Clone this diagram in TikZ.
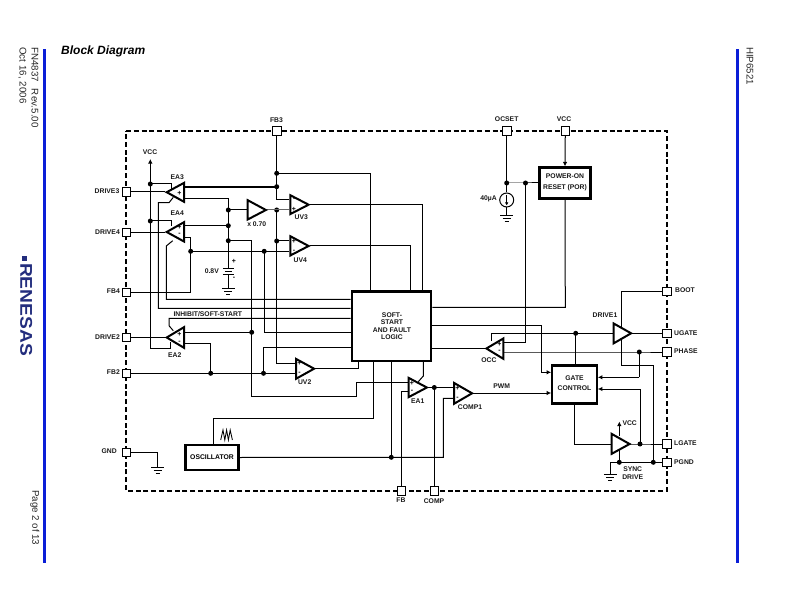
\documentclass[tikz,border=0pt]{standalone}
\usepackage{fontspec}
\usepackage{graphicx}
\setmainfont{Liberation Sans}
\usetikzlibrary{arrows.meta}
\definecolor{barblue}{RGB}{10,30,215}
\definecolor{logoblue}{RGB}{35,45,125}
\tikzset{
  wire/.style={line width=1pt},
  tip/.style={wire,-{Latex[length=4.6pt,width=4.6pt]}},
  dot/.style={circle,fill=black,inner sep=0pt,minimum size=5pt},
  pin/.style={draw,fill=white,line width=0.8pt,minimum size=8.6pt,inner sep=0pt},
  block/.style={draw,fill=white,line width=2.2pt,inner sep=0pt,font=\fontsize{6.8}{7.5}\selectfont\bfseries,align=center},
  lab/.style={inner sep=0pt,font=\fontsize{6.8}{7.5}\selectfont\bfseries,text=black!90},
  side/.style={inner sep=0pt,font=\fontsize{9.7}{10}\selectfont,text=black!85,rotate=-90},
  sign/.style={inner sep=0pt,font=\fontsize{7}{7}\selectfont\bfseries},
  bar/.style={fill=barblue,draw=none},
  frame/.style={line width=1.6pt,dash pattern=on 5pt off 2.8pt},
}
% amplifier triangle: name, base x, top y, bottom y, tip x, tip y (outer extents)
\newcommand\ampl[6]{%
  \pgfmathsetmacro\amps{#5>#2?1:-1}%
  \pgfmathsetmacro\ampbx{#2+\amps}%
  \pgfmathsetmacro\amptx{#5-1.4*\amps}%
  \pgfmathsetmacro\ampty{#3+1.2}%
  \pgfmathsetmacro\ampby{#4-1.2}%
  \draw[fill=white,line width=2pt] (\ampbx,\ampty) coordinate (#1-top) -- (\amptx,#6) coordinate (#1-tip) -- (\ampbx,\ampby) coordinate (#1-bot) -- cycle;
}
% ground symbol hanging from a named coordinate
\newcommand\gnd[1]{%
  \draw[wire] ([xshift=-6.5pt]#1) -- ([xshift=6.5pt]#1);
  \draw[wire] ([xshift=-4pt,yshift=-3.2pt]#1) -- ([xshift=4pt,yshift=-3.2pt]#1);
  \draw[wire] ([xshift=-2pt,yshift=-6.2pt]#1) -- ([xshift=2pt,yshift=-6.2pt]#1);
}
\begin{document}
\begin{tikzpicture}[x=1pt,y=-1pt]
\useasboundingbox (0,0) rectangle (792,612);
% page furniture
\fill[bar] (43,49) rectangle (46,563);
\fill[bar] (736,49) rectangle (739,563);
\node[anchor=west,inner sep=0pt,font=\fontsize{12}{14}\selectfont\bfseries\itshape] (title) at (61,51) {Block Diagram};
\node[side,anchor=west] (fn) at (35,47) {\addfontfeature{LetterSpace=1}FN4837\hspace{0.7em}Rev.5.00};
\node[side,anchor=west] (date) at (22.5,47) {\addfontfeature{LetterSpace=1}Oct 16, 2006};
\node[side,anchor=west] (part) at (750,47) {HIP6521};
\node[side,anchor=west] (page) at (35,490) {Page 2 of 13};
\node[rotate=-90,inner sep=0pt,text=logoblue,font=\fontsize{17}{18}\selectfont\bfseries,anchor=center] (logo) at (26.3,309.5) {\scalebox{1.13}[1]{RENESAS}};
\fill[logoblue] (22.3,256.5) rectangle (26.7,261);
% frame
\draw[frame] (126,131) -- (667,131) -- (667,491) -- (126,491) -- cycle;
% pins
\node[pin] (pFB3) at (276.7,131) {};
\node[pin] (pOCSET) at (506.7,131) {};
\node[pin] (pVCC) at (565.3,131) {};
\node[pin] (pD3) at (126.5,192) {};
\node[pin] (pD4) at (126.5,232.3) {};
\node[pin] (pFB4) at (126.5,292.3) {};
\node[pin] (pD2) at (126.5,337.5) {};
\node[pin] (pFB2) at (126.5,373.3) {};
\node[pin] (pGND) at (126.5,452.3) {};
\node[pin] (pFB) at (401.2,491) {};
\node[pin] (pCOMP) at (434.3,491) {};
\node[pin] (pBOOT) at (667,291.5) {};
\node[pin] (pUG) at (667,333.3) {};
\node[pin] (pPH) at (667,352) {};
\node[pin] (pLG) at (667,444) {};
\node[pin] (pPG) at (667,462.3) {};
% blocks
\node[block,minimum width=79.5pt,minimum height=69.5pt] (ss) at (391.5,326.3) {};
\node[block,minimum width=51pt,minimum height=31pt] (por) at (565,183) {};
\node[block,minimum width=44.5pt,minimum height=38pt] (gate) at (574.5,384.5) {};
\node[block,minimum width=53pt,minimum height=24.5pt] (osc) at (212,457.5) {OSCILLATOR};
% junctions
\node[dot] (jV1) at (150.3,184) {};
\node[dot] (jV2) at (150.3,221) {};
\node[dot] (jF3a) at (276.7,173.3) {};
\node[dot] (jF3b) at (276.7,186.7) {};
\node[dot] (jB1) at (276.7,210) {};
\node[dot] (jB2) at (276.7,241) {};
\node[dot] (jR1) at (228.3,210) {};
\node[dot] (jR2) at (228.3,225.7) {};
\node[dot] (jR3) at (228.3,240.7) {};
\node[dot] (jF4) at (190.7,251.3) {};
\node[dot] (jU4) at (264.2,251.3) {};
\node[dot] (jE2) at (251.7,332.3) {};
\node[dot] (jF2a) at (210.7,373.3) {};
\node[dot] (jF2b) at (263.5,373.3) {};
\node[dot] (jOsc) at (391.3,457.3) {};
\node[dot] (jCmp) at (434.3,387.5) {};
\node[dot] (jOC1) at (506.7,183) {};
\node[dot] (jOC2) at (525.5,183) {};
\node[dot] (jUG) at (575.7,333.3) {};
\node[dot] (jPH) at (639.3,352) {};
\node[dot] (jLG) at (640,444) {};
\node[dot] (jPG1) at (619.3,462.3) {};
\node[dot] (jPG2) at (653.3,462.3) {};
% free ends
\coordinate (vccL) at (150.3,159);
\coordinate (vccR) at (619.3,421.5);
\coordinate (batTop) at (228.3,268.3);
\coordinate (batBot) at (228.3,275);
\coordinate (gBat) at (228.3,288);
\coordinate (gGnd) at (157.7,467.3);
\coordinate (gOc) at (506.7,215.3);
\coordinate (gSync) at (610.3,474);
\node[circle,draw,line width=1pt,fill=white,minimum size=14pt,inner sep=0pt] (cs) at (506.7,200) {};
% left wires
\draw[tip] (jV1.center) -- (vccL);
\draw[wire] (jV1.center) -- (jV2.center);
\draw[wire] (pD3) -- (165.3,192);
\draw[wire] (pD4) -- (165.3,232.3);
\draw[wire] (pD2) -- (165.3,337.5);
\draw[wire] (jV1.center) -- (171.7,184) -- (171.7,189);
\draw[wire] (jV2.center) -- (171.7,221) -- (171.7,226);
\draw[wire] (jV2.center) -- (150.3,348.3) -- (170.7,348.3) -- (170.7,342);
\draw[line width=2.2pt] (184,186.7) -- (jF3b.center);
\draw[wire] (184,198.3) -- (228.3,198.3) -- (jR1.center);
\draw[wire] (jR1.center) -- (jR2.center) -- (jR3.center) -- (batTop);
\draw[wire] (jR2.center) -- (184,225.7);
\draw[wire] (173.3,197.3) -- (169,202.7) -- (158.3,202.7) -- (158.3,308.3) -- (ss.west |- 158.3,308.3);
\draw[wire] (172.7,240.7) -- (166.3,246) -- (166.3,299.3) -- (ss.west |- 166.3,299.3);
\draw[wire] (184,237.3) -- (190.7,237.3) -- (jF4.center) -- (190.7,292.3) -- (pFB4);
\draw[wire] (jF4.center) -- (jU4.center) -- (289.3,251.3);
\draw[wire] (jU4.center) -- (264.2,332.3) -- (ss.west |- 264.2,332.3);
\draw[wire] (jR3.center) -- (251.7,240.7) -- (jE2.center) -- (251.7,396.7) -- (356.7,396.7) -- (356.7,382.3) -- (408,382.3);
\draw[wire] (jE2.center) -- (184,332.3);
\draw[wire] (jR1.center) -- (247,210);
\draw[wire,black!60] (267,210) -- (jB1.center);
\draw[wire,black!60] (jB1.center) -- (289,210);
\draw[wire] (pFB3) -- (jF3a.center) -- (jF3b.center) -- (276.7,199.3) -- (289.3,199.3);
\draw[wire] (jB1.center) -- (jB2.center) -- (276.7,363.3) -- (295,363.3);
\draw[wire] (jB2.center) -- (289.3,241);
\draw[wire] (jF3a.center) -- (370.7,173.3) -- (370.7,291);
\draw[wire] (310,204.7) -- (422.3,204.7) -- (422.3,291);
\draw[wire] (310,246) -- (410.3,246) -- (410.3,291);
\draw[wire] (pFB2) -- (jF2a.center) -- (jF2b.center) -- (295,373.3);
\draw[wire] (jF2a.center) -- (210.7,343.3) -- (184,343.3);
\draw[wire] (jF2b.center) -- (263.5,347.3) -- (ss.west |- 263.5,347.3);
\draw[wire] (ss.west |- 169,318.3) -- (169,318.3) -- (169,325.7) -- (173.3,330.7);
\draw[wire] (315,368.7) -- (358.3,368.7) -- (358.3,361);
% battery
\draw[wire] (batTop) ++(-5.5,0) -- ++(11,0);
\draw[wire] (228.3,271.7) ++(-3.5,0) -- ++(7,0);
\draw[wire] (batBot) ++(-5.5,0) -- ++(11,0);
\draw[wire] (batBot) -- (gBat);
\gnd{gBat}
\node[sign] (batP) at (234,261) {+};
\node[sign] (batM) at (234,278) {-};
% GND pin
\draw[wire] (pGND) -- (157.7,452.3) -- (gGnd);
\gnd{gGnd}
% bottom wires
\draw[wire] (373.3,361) -- (373.3,418.3) -- (213.3,418.3) -- (213.3,445);
\draw[wire] (391.3,361) -- (jOsc.center);
\draw[wire] (osc.east) -- (jOsc.center) -- (443.3,457.3) -- (443.3,398.3) -- (453,398.3);
\draw[wire] (428,387.5) -- (jCmp.center) -- (453,387.5);
\draw[wire] (jCmp.center) -- (pCOMP);
\draw[wire] (408,391.7) -- (401.2,391.7) -- (pFB);
\draw[wire] (423.3,361) -- (423.3,376) -- (418.3,381.7);
\draw[tip] (473,393) -- (gate.west |- 473,393);
% sawtooth
\draw[line width=0.85pt,line join=miter] (220.7,440) -- (223,430) -- (224.8,440) -- (226.6,430) -- (228.4,440) -- (230.2,430) -- (232.4,440);
% top right wires
\draw[wire] (pOCSET) -- (jOC1.center) -- (cs);
\draw[wire] (jOC1.center) -- (jOC2.center) -- (por.west);
\draw[wire] (cs) -- (gOc);
\gnd{gOc}
\draw[wire,-{Latex[length=3.2pt,width=3.6pt]}] (506.7,195) -- (506.7,205.5);
\draw[tip] (pVCC) -- (por.north);
\draw[wire] (por.south) -- (565.3,307.3) -- (ss.east |- 565.3,307.3);
% right wires
\draw[wire] (jOC2.center) -- (525.5,342.5) -- (504,342.5);
\draw[wire] (ss.east |- 541.3,325) -- (541.3,325) -- (541.3,372.3);
\draw[tip] (541.3,372.3) -- (gate.west |- 541.3,372.3);
\draw[wire] (491,340.5) -- (491,333.3) -- (jUG.center) -- (613,333.3);
\draw[wire] (jUG.center) -- (gate.north -| jUG);
\draw[wire] (ss.east |- 485,348.3) -- (485,348.3);
\draw[wire] (504,352) -- (jPH.center) -- (pPH);
\draw[wire] (632,333.3) -- (pUG);
\draw[wire] (pBOOT) -- (621.7,291.5) -- (621.7,330);
\draw[wire] (621.7,336) -- (621.7,365.7) -- (653.3,365.7) -- (jPG2.center);
\draw[wire] (jPH.center) -- (639.3,377.3);
\draw[tip] (639.3,377.3) -- (gate.east |- 639.3,377.3);
\draw[wire] (jLG.center) -- (640,389);
\draw[tip] (640,389) -- (gate.east |- 640,389);
\draw[wire] (gate.south -| 574.3,0) -- (574.3,444) -- (611,444);
\draw[wire] (630,444) -- (jLG.center) -- (pLG);
\draw[wire] (gSync) -- (610.3,462.3) -- (jPG1.center) -- (jPG2.center) -- (pPG);
\gnd{gSync}
\draw[tip] (619.3,436) -- (vccR);
\draw[wire] (619.3,450) -- (jPG1.center);
% amplifiers
\ampl{ea3}{185}{181.7}{203}{165.3}{192.2}
\ampl{ea4}{185}{221}{242.7}{165.3}{232}
\ampl{ea2}{185}{326}{349}{165.3}{337.5}
\ampl{buf}{246.7}{199}{220.7}{267.3}{210}
\ampl{uv3}{289.3}{194}{215.3}{310}{204.7}
\ampl{uv4}{289.3}{235}{256.7}{310}{246}
\ampl{uv2}{295}{357.7}{380}{315.5}{368.7}
\ampl{ea1}{407.7}{376.7}{398.3}{428.3}{387.5}
\ampl{cmp}{453}{381.7}{405}{473.5}{393.3}
\ampl{occ}{504.3}{337.3}{360}{485}{348.5}
\ampl{drv}{612.7}{322.3}{344.5}{632.5}{333.3}
\ampl{syn}{610.7}{432.7}{455}{631}{444}
% input signs
\node[sign] at (179.5,186.5) {-};
\node[sign] at (179.5,193.5) {+};
\node[sign] at (179.5,227) {+};
\node[sign] at (179.5,234.5) {-};
\node[sign] at (179.5,334) {+};
\node[sign] at (179.5,342) {-};
\node[sign] at (294,199.5) {-};
\node[sign] at (294,209.5) {+};
\node[sign] at (294,241) {+};
\node[sign] at (294,251) {-};
\node[sign] at (299.5,363.5) {+};
\node[sign] at (299.5,373) {-};
\node[sign] at (412,383) {+};
\node[sign] at (412,391.5) {-};
\node[sign] at (457.5,388) {+};
\node[sign] at (457.5,398) {-};
\node[sign] at (499.5,344) {+};
\node[sign] at (499.5,351) {-};
% texts
\node[inner sep=0pt,font=\fontsize{6.8}{7.4}\selectfont\bfseries,align=center,text=black!90] (ssT) at (392,326.3) {SOFT-\\START\\AND FAULT\\LOGIC};
\node[lab] (porA) at (565,176.3) {POWER-ON};
\node[lab] (porB) at (565,187.3) {RESET (POR)};
\node[lab] (gateA) at (574.5,378.3) {GATE};
\node[lab] (gateB) at (574.5,388.3) {CONTROL};
\node[lab,anchor=east] (lD3) at (119.5,191.5) {DRIVE3};
\node[lab,anchor=east] (lD4) at (120,232) {DRIVE4};
\node[lab,anchor=east] (lF4) at (120,291.5) {FB4};
\node[lab,anchor=east] (lD2) at (120,337) {DRIVE2};
\node[lab,anchor=east] (lF2) at (120,372.5) {FB2};
\node[lab,anchor=east] (lG) at (117,451.5) {GND};
\node[lab] (lF3) at (276.5,120) {FB3};
\node[lab] (lOC) at (506.7,119.5) {OCSET};
\node[lab] (lV) at (564,119) {VCC};
\node[lab] (lFB) at (401,500.5) {FB};
\node[lab] (lCO) at (434,501) {COMP};
\node[lab,anchor=west] (lB) at (675,290.5) {BOOT};
\node[lab,anchor=west] (lU) at (674,333.3) {UGATE};
\node[lab,anchor=west] (lP) at (674,351.5) {PHASE};
\node[lab,anchor=west] (lL) at (674,443.5) {LGATE};
\node[lab,anchor=west] (lPG) at (674,462.5) {PGND};
\node[lab] (tE3) at (177.3,176.7) {EA3};
\node[lab] (tE4) at (177.3,213) {EA4};
\node[lab] (tX) at (256.7,224.5) {x 0.70};
\node[lab] (tU3) at (301.3,217.5) {UV3};
\node[lab] (tU4) at (300.3,260.3) {UV4};
\node[lab] (tU2) at (304.7,382.5) {UV2};
\node[lab] (tE2) at (174.7,354.7) {EA2};
\node[lab] (tE1) at (417.7,401.3) {EA1};
\node[lab] (tC1) at (470,407) {COMP1};
\node[lab] (tO) at (489,359.7) {OCC};
\node[lab] (tD1) at (605,314.7) {DRIVE1};
\node[lab] (tV1) at (150,152.3) {VCC};
\node[lab,anchor=west] (tV2) at (622.3,422.7) {VCC};
\node[lab] (tS) at (632.7,469.3) {SYNC};
\node[lab] (tDr) at (632.7,476.7) {DRIVE};
\node[lab] (tPWM) at (501.7,386) {PWM};
\node[lab,anchor=west] (tI) at (173.3,313.7) {INHIBIT/SOFT-START};
\node[lab,anchor=east] (t08) at (219,270.7) {0.8V};
\node[lab,anchor=east] (t40) at (497,198.7) {40µA};
\end{tikzpicture}
\end{document}
